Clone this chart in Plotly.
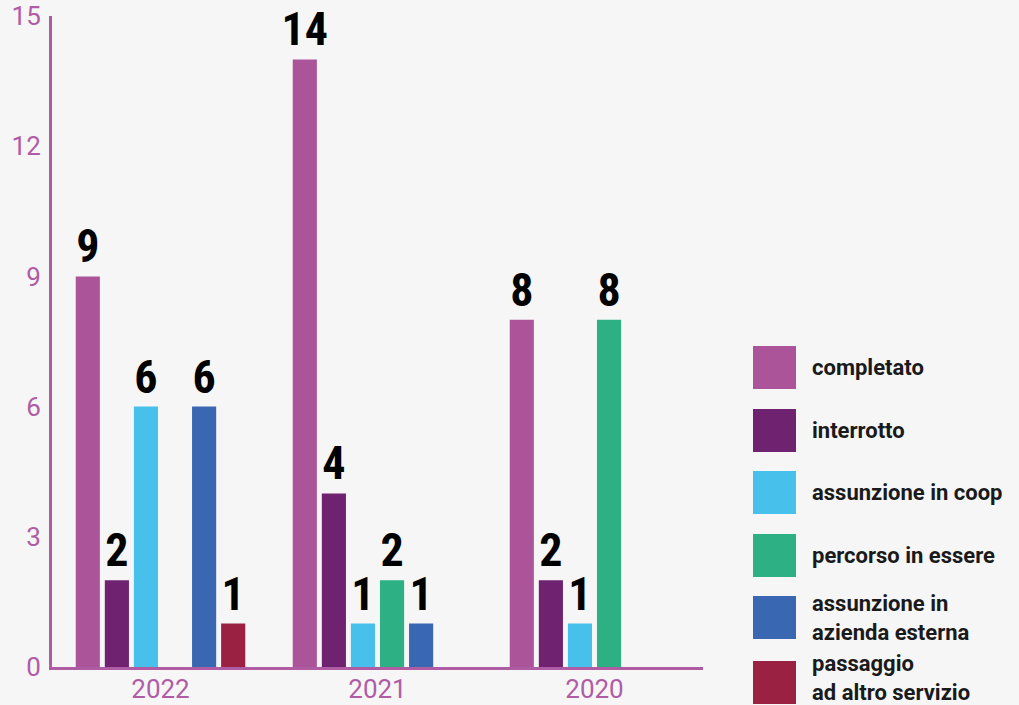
import plotly.graph_objects as go

# dati
anni = ["2022", "2021", "2020"]
esiti = ["completato", "interrotto", "assunzione in coop", "percorso in essere",
         "assunzione in<br>azienda esterna", "passaggio<br>ad altro servizio"]
completato = [9, 14, 8]
interrotto = [2, 4, 2]
assunzione_coop = [6, 1, 1]
percorso_essere = [None, 2, 8]
azienda_esterna = [6, 1, None]
altro_servizio = [1, None, None]
y_ticks = [0, 3, 6, 9, 12, 15]

valori = [completato, interrotto, assunzione_coop, percorso_essere,
          azienda_esterna, altro_servizio]
colori = ["#ab5499", "#6e2270", "#47c0eb", "#2db083", "#3a67b1", "#9a2141"]
ASSE = "#b05ca5"

W, H = 1019, 705
L, R, T, B = 52, 316, 16, 38
pw, ph = W - L - R, H - T - B


def px_x(x):
    return (x - L) / pw


def px_y(y):
    return (H - B - y) / ph


fig = go.Figure()
for nome, v, c in zip(esiti, valori, colori):
    fig.add_trace(go.Bar(
        x=anni, y=v, name=nome,
        marker=dict(color=c, line=dict(width=0)),
        text=[str(k) if k is not None else "" for k in v],
        textposition="outside",
        constraintext="none",
        textfont=dict(family="Roboto Condensed, Roboto, sans-serif",
                      size=46, color="black", weight="bold"),
        cliponaxis=False,
        showlegend=False,
    ))

# legenda con quadrati grandi
centri = [367.5, 430.5, 492.5, 555.5, 617.5, 682.5]
for nome, c, cy in zip(esiti, colori, centri):
    fig.add_shape(type="rect", xref="paper", yref="paper",
                  x0=px_x(753), x1=px_x(796), y0=px_y(cy + 21.5), y1=px_y(cy - 21.5),
                  fillcolor=c, line=dict(width=0))
    # l'ultima voce sta a filo del bordo: la alzo di poco per non tagliarla
    ty = min(cy, 678)
    fig.add_annotation(xref="paper", yref="paper", x=px_x(810), y=px_y(ty),
                       text=nome, showarrow=False, xanchor="left", yanchor="middle",
                       align="left",
                       font=dict(family="Roboto", size=22, color="#1a1a1a", weight="bold"))

fig.update_layout(
    width=W, height=H,
    margin=dict(l=L, r=R, t=T, b=B),
    paper_bgcolor="#f6f6f6",
    plot_bgcolor="#f6f6f6",
    barmode="group",
    bargap=0.196,
    bargroupgap=0.17,
    xaxis=dict(
        showline=True, linecolor=ASSE, linewidth=3, showgrid=False,
        ticks="", automargin=False, ticklabelstandoff=-3,
        tickfont=dict(family="Roboto", size=26, color=ASSE),
    ),
    yaxis=dict(
        range=[0, 15], tickvals=y_ticks, showline=True, linecolor=ASSE,
        linewidth=3, showgrid=False, zeroline=False, ticks="",
        ticklabelstandoff=3, automargin=False,
        tickfont=dict(family="Roboto", size=26, color=ASSE),
    ),
)

fig.write_html("out.html", config={"displayModeBar": False},
               post_script="document.body.style.margin='0';")
